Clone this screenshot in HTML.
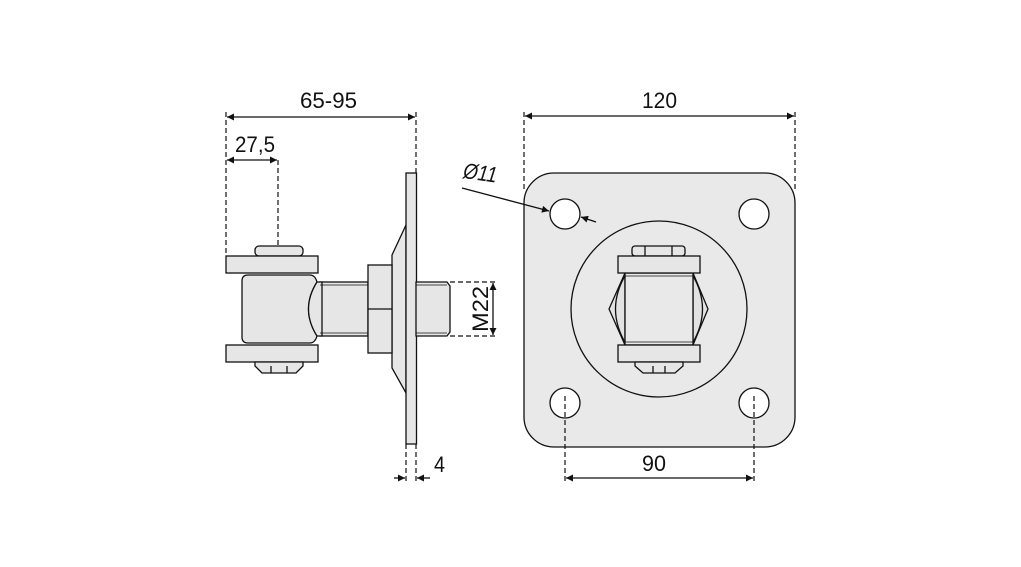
<!DOCTYPE html>
<html><head><meta charset="utf-8"><style>
html,body{margin:0;padding:0;background:#fff;}
svg{display:block;}
text{font-family:"Liberation Sans Narrow","Liberation Sans",sans-serif;font-size:22px;fill:#111;}
</style></head><body>
<svg width="1021" height="567" viewBox="0 0 1021 567" xmlns="http://www.w3.org/2000/svg">
<defs>
<marker id="a" viewBox="0 0 10 10" refX="10" refY="5" markerWidth="9" markerHeight="7" orient="auto-start-reverse" markerUnits="userSpaceOnUse"><path d="M0,0 L10,5 L0,10 z" fill="#111"/></marker>
</defs>
<!-- left view -->
<g stroke="#111" stroke-width="1.3" fill="#e6e6e6">
<path d="M406,225 L392,255 L392,368 L406,393 Z"/>
<rect x="406" y="173" width="10.5" height="271"/>
<rect x="320" y="282" width="48" height="54"/>
<path d="M416,282 L447,282 L450,286 L450,332 L447,336 L416,336 Z"/>
<rect x="368" y="265" width="24" height="88"/>
<line x1="368" y1="309" x2="392" y2="309"/>
<rect x="255" y="246" width="48" height="10" rx="4"/>
<path d="M248,275 L310,275 Q315,275 317,282 Q300,309 317,336 Q315,343 310,343 L248,343 Q242,343 242,337 L242,281 Q242,275 248,275 Z"/>
<path d="M317,282 Q300,309 317,336 L322,336 L322,282 Z"/>
<rect x="226" y="256" width="92" height="17"/>
<rect x="226" y="345" width="92" height="17"/>
<path d="M255,362 L303,362 L303,366 L296,373 L262,373 L255,366 Z"/>
<line x1="271" y1="366" x2="271" y2="373"/><line x1="287" y1="366" x2="287" y2="373"/>
</g>
<g stroke="#111" stroke-width="0.8"><line x1="320" y1="285" x2="368" y2="285"/><line x1="320" y1="333" x2="368" y2="333"/><line x1="416" y1="285" x2="447" y2="285"/><line x1="416" y1="333" x2="447" y2="333"/></g>
<!-- right view -->
<g stroke="#111" stroke-width="1.3">
<rect x="524" y="173" width="271" height="274" rx="30" fill="#e9e9e9"/>
<circle cx="565" cy="214" r="15" fill="#fff"/>
<circle cx="754" cy="214" r="15" fill="#fff"/>
<circle cx="565" cy="403" r="15" fill="#fff"/>
<circle cx="754" cy="403" r="15" fill="#fff"/>
<circle cx="659" cy="309" r="88" fill="#e9e9e9"/>
<path d="M625,273 L609,309 L625,345 Z" fill="#e2e2e2"/>
<path d="M693,273 L708,309 L693,345 Z" fill="#e2e2e2"/>
<path d="M626,274 Q605,309 626,344" fill="none"/>
<path d="M692,274 Q713,309 692,344" fill="none"/>
<rect x="625" y="273" width="68" height="72" fill="#e9e9e9"/>
<rect x="632" y="246" width="53" height="10" rx="3" fill="#e6e6e6"/>
<line x1="645" y1="246" x2="645" y2="256"/><line x1="672" y1="246" x2="672" y2="256"/>
<rect x="618" y="256" width="82" height="17" fill="#e6e6e6"/>
<rect x="618" y="345" width="82" height="17" fill="#e6e6e6"/>
<path d="M635,362 L683,362 L683,366 L675,373 L643,373 L635,366 Z" fill="#e6e6e6"/>
<line x1="653" y1="366" x2="653" y2="373"/><line x1="665" y1="366" x2="665" y2="373"/>
</g>
<g stroke="#111" stroke-width="0.8"><line x1="625" y1="276" x2="693" y2="276"/><line x1="625" y1="342" x2="693" y2="342"/></g>
<!-- dimensions -->
<g stroke="#111" stroke-width="1.2" fill="none" stroke-dasharray="5,3">
<line x1="226" y1="112" x2="226" y2="256"/>
<line x1="416" y1="112" x2="416" y2="173"/>
<line x1="278" y1="160" x2="278" y2="245"/>
<line x1="450" y1="282" x2="496" y2="282"/>
<line x1="450" y1="336" x2="496" y2="336"/>
<line x1="406" y1="444" x2="406" y2="482"/>
<line x1="416" y1="444" x2="416" y2="482"/>
<line x1="524" y1="112" x2="524" y2="190"/>
<line x1="795" y1="112" x2="795" y2="190"/>
<line x1="565" y1="396" x2="565" y2="482"/>
<line x1="754" y1="396" x2="754" y2="482"/>
</g>
<g stroke="#111" stroke-width="1.3" fill="none">
<line x1="227" y1="117" x2="415" y2="117" marker-start="url(#a)" marker-end="url(#a)"/>
<line x1="227" y1="160" x2="277" y2="160" marker-start="url(#a)" marker-end="url(#a)"/>
<line x1="493" y1="283" x2="493" y2="335" marker-start="url(#a)" marker-end="url(#a)"/>
<line x1="394" y1="478" x2="405" y2="478" marker-end="url(#a)"/>
<line x1="430" y1="478" x2="417" y2="478" marker-end="url(#a)"/>
<line x1="525" y1="116" x2="794" y2="116" marker-start="url(#a)" marker-end="url(#a)"/>
<line x1="566" y1="478" x2="753" y2="478" marker-start="url(#a)" marker-end="url(#a)"/>
<line x1="462" y1="188" x2="549" y2="211" marker-end="url(#a)"/>
<line x1="596" y1="222" x2="581" y2="217" marker-end="url(#a)"/>
</g>
<text x="300" y="108" textLength="57" lengthAdjust="spacingAndGlyphs">65-95</text>
<text x="235" y="152" textLength="40" lengthAdjust="spacingAndGlyphs">27,5</text>
<text x="434" y="472" textLength="11" lengthAdjust="spacingAndGlyphs">4</text>
<text x="642" y="108" textLength="35" lengthAdjust="spacingAndGlyphs">120</text>
<text x="642" y="471" textLength="24" lengthAdjust="spacingAndGlyphs">90</text>
<text x="463" y="180" font-style="italic" textLength="34" lengthAdjust="spacingAndGlyphs" transform="rotate(8 478 175)">Ø11</text>
<text x="0" y="0" textLength="46" lengthAdjust="spacingAndGlyphs" transform="translate(488 332) rotate(-90)">M22</text>
</svg>
</body></html>
